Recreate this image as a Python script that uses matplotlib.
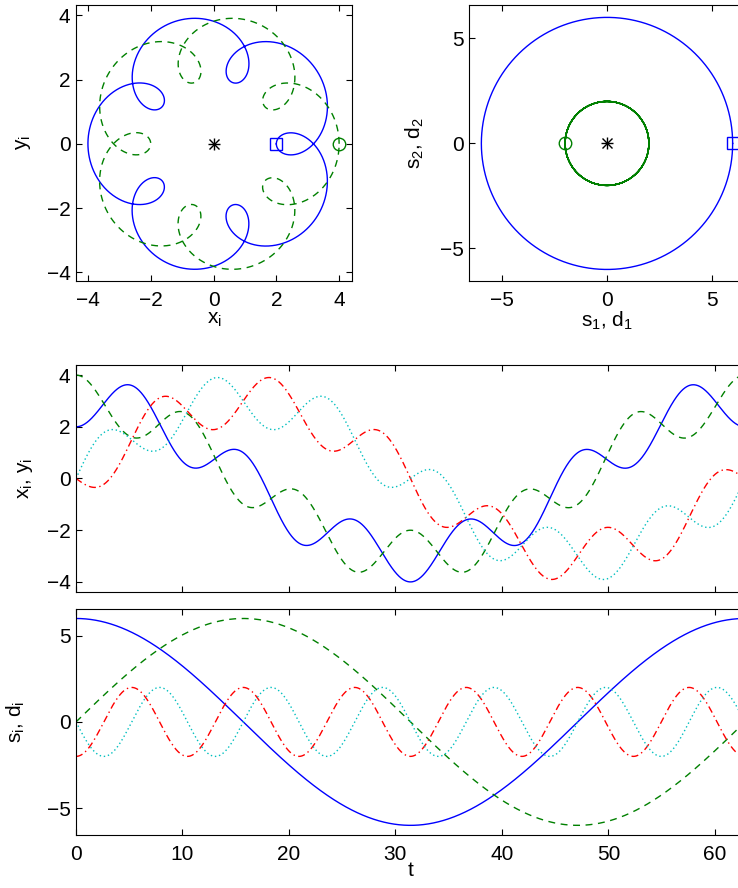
import numpy as np
import matplotlib
matplotlib.use("Agg")
import matplotlib.pyplot as plt

plt.rcParams["font.family"] = ["Liberation Sans", "DejaVu Sans"]
plt.rcParams["mathtext.fontset"] = "custom"
plt.rcParams["mathtext.rm"] = "Liberation Sans"
plt.rcParams["mathtext.it"] = "Liberation Sans"
plt.rcParams["mathtext.default"] = "rm"
plt.rcParams["font.size"] = 15
plt.rcParams["axes.linewidth"] = 0.8

# values
t_end = 62.83            # time axis runs 0 .. ~62.8
s_radius = 6.0           # s traces a circle of radius 6, one turn over t_end
s_period = 62.83
d_radius = 2.0           # d traces a circle of radius 2
d_period = 10.47         # red peaks at ~5.2, 15.7, 26.2, 36.6, 47.1, 57.6
d_start_angle = np.pi    # d starts at (-2, 0)

t = np.linspace(0, t_end, 3000)
s1 = s_radius * np.cos(2 * np.pi * t / s_period)
s2 = s_radius * np.sin(2 * np.pi * t / s_period)
d1 = d_radius * np.cos(2 * np.pi * t / d_period + d_start_angle)
d2 = d_radius * np.sin(2 * np.pi * t / d_period + d_start_angle)

# the two bodies
x1, y1 = (s1 + d1) / 2, (s2 + d2) / 2
x2, y2 = (s1 - d1) / 2, (s2 - d2) / 2

blue = (0, 0, 1)
green = (0, 0.5, 0)
red = (1, 0, 0)
cyan = (0, 0.75, 0.75)
lw = 1.0

fig = plt.figure(figsize=(7.38, 8.88), dpi=100)
W, H = 738.0, 888.0


def box(l, t_, r, b):
    return [l / W, 1 - b / H, (r - l) / W, (b - t_) / H]


def matlab_axes(ax):
    ax.tick_params(direction="in", top=True, right=True, length=4, width=0.8)
    ax.tick_params(axis="x", pad=7)
    ax.tick_params(axis="y", pad=4)


def asterisk(ax, x, y):
    ax.plot(x, y, "+", color="k", ms=9, mew=1.0)
    ax.plot(x, y, "x", color="k", ms=7, mew=1.0)


# top left: trajectories
ax1 = fig.add_axes(box(76, 5, 352, 281))
ax1.plot(x1, y1, "-", color=blue, lw=lw)
ax1.plot(x2, y2, "--", color=green, lw=lw, dashes=(5, 4))
asterisk(ax1, 0, 0)
ax1.plot(x1[0], y1[0], "s", mfc="none", mec=blue, ms=9, mew=1.0)
ax1.plot(x2[0], y2[0], "o", mfc="none", mec=green, ms=9, mew=1.0)
ax1.set_xlim(-4.38, 4.41)
ax1.set_ylim(-4.27, 4.32)
ax1.set_xticks([-4, -2, 0, 2, 4])
ax1.set_yticks([-4, -2, 0, 2, 4])
ax1.set_xlabel("x$_i$", labelpad=0)
ax1.set_ylabel("y$_i$", labelpad=10)
matlab_axes(ax1)

# top right: s and d
ax2 = fig.add_axes(box(469, 5, 745, 281))
ax2.plot(s1, s2, "-", color=blue, lw=lw)
ax2.plot(d1, d2, "-", color=green, lw=lw)
asterisk(ax2, 0, 0)
ax2.plot(s1[0], s2[0], "s", mfc="none", mec=blue, ms=9, mew=1.0)
ax2.plot(d1[0], d2[0], "o", mfc="none", mec=green, ms=9, mew=1.0)
ax2.set_xlim(-6.59, 6.59)
ax2.set_ylim(-6.55, 6.59)
ax2.set_xticks([-5, 0, 5])
ax2.set_yticks([-5, 0, 5])
ax2.set_xlabel("s$_1$, d$_1$", labelpad=0)
ax2.set_ylabel("s$_2$, d$_2$", labelpad=10)
matlab_axes(ax2)

# middle: coordinates vs time
ax3 = fig.add_axes(box(76, 365, 745, 592))
ax3.plot(t, x1, "-", color=blue, lw=lw)
ax3.plot(t, x2, "--", color=green, lw=lw, dashes=(5, 4))
ax3.plot(t, y1, "-.", color=red, lw=lw, dashes=(5, 2.5, 1, 2.5))
ax3.plot(t, y2, ":", color=cyan, lw=lw, dashes=(1, 2))
ax3.set_xlim(0, t_end)
ax3.set_ylim(-4.39, 4.39)
ax3.set_xticks([0, 10, 20, 30, 40, 50, 60])
ax3.set_xticklabels([])
ax3.set_yticks([-4, -2, 0, 2, 4])
ax3.set_ylabel("x$_i$, y$_i$", labelpad=8)
matlab_axes(ax3)

# bottom: s and d vs time
ax4 = fig.add_axes(box(76, 609, 745, 835))
ax4.plot(t, s1, "-", color=blue, lw=lw)
ax4.plot(t, s2, "--", color=green, lw=lw, dashes=(5, 4))
ax4.plot(t, d1, "-.", color=red, lw=lw, dashes=(5, 2.5, 1, 2.5))
ax4.plot(t, d2, ":", color=cyan, lw=lw, dashes=(1, 2))
ax4.set_xlim(0, t_end)
ax4.set_ylim(-6.56, 6.55)
ax4.set_xticks([0, 10, 20, 30, 40, 50, 60])
ax4.set_yticks([-5, 0, 5])
ax4.set_xlabel("t", labelpad=-2)
ax4.set_ylabel("s$_i$, d$_i$", labelpad=14)
matlab_axes(ax4)

fig.savefig("out.png", dpi=100)
